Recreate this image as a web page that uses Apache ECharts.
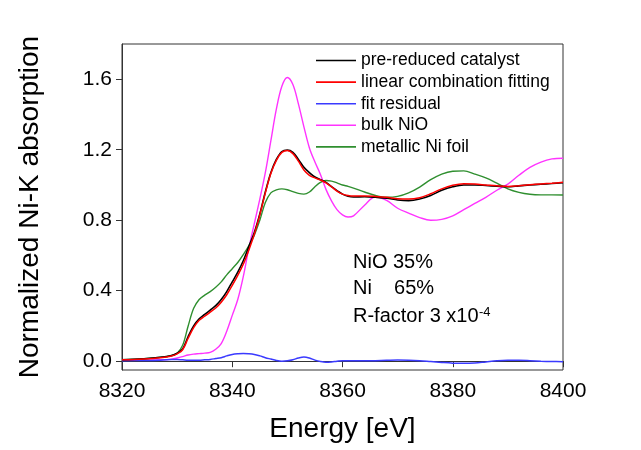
<!DOCTYPE html>
<html>
<head>
<meta charset="utf-8">
<script src="https://cdn.jsdelivr.net/npm/echarts/dist/echarts.min.js"></script>
<style>
html,body{margin:0;padding:0;background:#fff;}
#chart{width:641px;height:450px;}
</style>
</head>
<body>
<div id="chart"></div>
<script>
var energy = [8320,8324,8327,8329,8330,8331,8332,8333,8334,8335,8336,8337,8338,8339,8340,8341,8342,8343,8344,8345,8346,8347,8348,8349,8350,8351,8352,8353,8354,8355,8356,8357,8358,8359,8360,8361,8362,8364,8366,8368,8370,8372,8374,8376,8378,8380,8382,8384,8386,8388,8390,8392,8394,8396,8398,8400];

var catalyst = [0.008,0.014,0.022,0.032,0.045,0.07,0.14,0.20,0.24,0.265,0.29,0.315,0.35,0.395,0.45,0.505,0.57,0.65,0.73,0.835,0.96,1.07,1.145,1.19,1.198,1.185,1.145,1.10,1.07,1.045,1.03,1.015,0.99,0.968,0.948,0.936,0.932,0.933,0.93,0.925,0.915,0.911,0.92,0.94,0.97,0.99,1.0,1.0,0.997,0.993,0.99,0.995,1.0,1.004,1.008,1.013];

var lcf = [0.008,0.013,0.02,0.03,0.042,0.065,0.13,0.19,0.232,0.255,0.278,0.302,0.335,0.377,0.43,0.487,0.55,0.63,0.72,0.83,0.955,1.065,1.14,1.185,1.195,1.178,1.135,1.085,1.055,1.04,1.028,1.012,0.99,0.965,0.948,0.94,0.937,0.938,0.935,0.93,0.922,0.92,0.928,0.95,0.978,0.998,1.007,1.005,1.0,0.995,0.992,0.996,1.001,1.006,1.01,1.015];

var residual = [0.003,0.004,0.006,0.009,0.01,0.008,0.006,0.005,0.006,0.008,0.01,0.015,0.02,0.03,0.038,0.042,0.044,0.042,0.038,0.03,0.02,0.012,0.004,0.0,0.002,0.008,0.018,0.024,0.018,0.006,-0.002,-0.006,-0.004,0.0,0.003,0.003,0.002,0.002,0.003,0.005,0.007,0.006,0.003,-0.002,-0.007,-0.011,-0.012,-0.01,-0.004,0.002,0.005,0.005,0.003,0.0,-0.002,-0.003];

var bulkNiO = [0.005,0.006,0.008,0.012,0.018,0.026,0.035,0.04,0.043,0.046,0.05,0.068,0.10,0.17,0.26,0.35,0.48,0.64,0.78,0.92,1.07,1.25,1.43,1.56,1.61,1.57,1.46,1.33,1.21,1.13,1.06,0.975,0.91,0.86,0.83,0.818,0.825,0.885,0.933,0.912,0.868,0.84,0.815,0.80,0.805,0.825,0.86,0.895,0.93,0.97,1.005,1.055,1.10,1.13,1.148,1.152];

var niFoil = [0.008,0.014,0.022,0.032,0.045,0.09,0.20,0.30,0.35,0.375,0.395,0.42,0.45,0.49,0.525,0.56,0.605,0.655,0.715,0.80,0.90,0.955,0.972,0.978,0.973,0.962,0.952,0.948,0.96,0.99,1.015,1.025,1.022,1.012,1.0,0.992,0.982,0.96,0.94,0.93,0.935,0.955,0.988,1.03,1.062,1.078,1.08,1.062,1.04,1.01,0.978,0.958,0.947,0.944,0.944,0.943];

var seriesNames = ['pre-reduced catalyst','linear combination fitting','fit residual','bulk NiO','metallic Ni foil'];
var xTicks = [8320,8340,8360,8380,8400];
var yTicks = [0,0.4,0.8,1.2,1.6];

function pairs(vals){ return energy.map(function(e,i){ return [e, vals[i]]; }); }

var FONT = 'Liberation Sans, Arial, sans-serif';
var chart = echarts.init(document.getElementById('chart'), null, {renderer:'canvas'});

function mk(name, vals, color, width, z){
  return {name:name, type:'line', data:pairs(vals), showSymbol:false, symbol:'none',
    smooth:0.35, z:z, lineStyle:{color:color, width:width}, itemStyle:{color:color}, animation:false};
}

chart.setOption({
  animation:false,
  backgroundColor:'#fff',
  grid:{left:122, right:78, top:44, bottom:80, show:true, borderColor:'#333', borderWidth:1, backgroundColor:'transparent'},
  legend:{
    orient:'vertical', left:316, top:50.5, padding:0, itemWidth:40, itemHeight:1.6, itemGap:1.6, icon:'rect',
    data:seriesNames,
    textStyle:{fontFamily:FONT, fontSize:17.5, color:'#000', lineHeight:20},
    selectedMode:false
  },
  xAxis:{
    type:'value', min:8320, max:8400, interval:20,
    name:'Energy [eV]', nameLocation:'middle', nameGap:45,
    nameTextStyle:{fontFamily:FONT, fontSize:28, color:'#000'},
    axisLine:{show:true, lineStyle:{color:'#333', width:1}},
    axisTick:{show:true, inside:false, length:6, lineStyle:{color:'#333'}, customValues:xTicks},
    axisLabel:{fontFamily:FONT, fontSize:21, color:'#000', margin:11, customValues:xTicks,
      formatter:function(v){ return String(v); }},
    splitLine:{show:false}
  },
  yAxis:{
    type:'value', min:-0.05, max:1.8,
    name:'Normalized Ni-K absorption', nameLocation:'middle', nameGap:78,
    nameTextStyle:{fontFamily:FONT, fontSize:28, color:'#000'},
    axisLine:{show:true, lineStyle:{color:'#333', width:1}},
    axisTick:{show:true, inside:false, length:6, lineStyle:{color:'#333'}, customValues:yTicks},
    axisLabel:{fontFamily:FONT, fontSize:21, color:'#000', margin:10, customValues:yTicks,
      formatter:function(v){ return v.toFixed(1); }},
    splitLine:{show:false}
  },
  series:[
    mk(seriesNames[0], catalyst, '#000000', 1.6, 5),
    mk(seriesNames[1], lcf, '#ff0000', 1.5, 6),
    mk(seriesNames[2], residual, '#3a3aff', 1.5, 4),
    mk(seriesNames[3], bulkNiO, '#ff33ff', 1.4, 3),
    mk(seriesNames[4], niFoil, '#2f8f2f', 1.4, 3)
  ],
  graphic:[
    {type:'text', left:353, top:252, style:{text:'NiO 35%', fontFamily:FONT, fontSize:20, fill:'#000'}},
    {type:'text', left:353, top:278, style:{text:'Ni    65%', fontFamily:FONT, fontSize:20, fill:'#000'}},
    {type:'text', left:353, top:306, style:{text:'R-factor 3 x10', fontFamily:FONT, fontSize:20, fill:'#000'}},
    {type:'text', left:479, top:306, style:{text:'-4', fontFamily:FONT, fontSize:13, fill:'#000'}}
  ]
});
</script>
</body>
</html>
